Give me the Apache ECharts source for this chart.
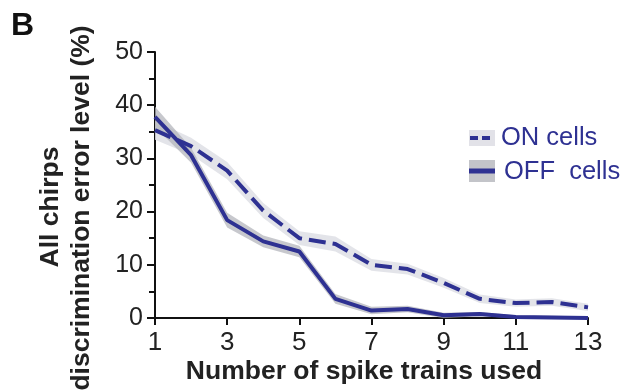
<!DOCTYPE html>
<html>
<head>
<meta charset="utf-8">
<script src="https://cdn.jsdelivr.net/npm/echarts@6/dist/echarts.min.js"></script>
<style>
  html, body { margin: 0; padding: 0; background: #fff; }
  #chart { width: 625px; height: 391px; }
</style>
</head>
<body>
<div id="chart"></div>
<script>
// Number of spike trains used
const trains = ['1','2','3','4','5','6','7','8','9','10','11','12','13'];
// Mean discrimination error (%) and SEM
const onMean  = [35.3, 32.3, 27.7, 20.2, 15.0, 13.9, 10.0, 9.2, 6.6, 3.6, 2.8, 3.0, 2.0];
const onSem   = [1.8, 1.6, 1.6, 1.4, 1.3, 1.4, 1.1, 1.0, 0.9, 0.8, 0.7, 0.7, 0.7];
const offMean = [37.8, 30.6, 18.4, 14.4, 12.5, 3.6, 1.4, 1.7, 0.5, 0.75, 0.2, 0.1, 0.0];
const offSem  = [1.9, 1.4, 1.4, 1.1, 1.1, 0.9, 0.7, 0.6, 0.5, 0.4, 0.3, 0.3, 0.3];

const BLUE = '#2e3192';
const FONT = 'Liberation Sans, Arial, sans-serif';

const lower = (m, s) => m.map((v, i) => Math.max(0, v - s[i]));
const spread = (m, s) => m.map((v, i) => (v + s[i]) - Math.max(0, v - s[i]));

// SEM band: invisible lower bound stacked with a filled spread
function band(name, mean, sem, color) {
  return [
    { name: name + '-lo', type: 'line', stack: name, data: lower(mean, sem),
      symbol: 'none', silent: true, lineStyle: { width: 0 }, z: 1 },
    { name: name + '-band', type: 'line', stack: name, data: spread(mean, sem),
      symbol: 'none', silent: true, lineStyle: { width: 0 },
      areaStyle: { color: color, opacity: 1 }, z: 1 }
  ];
}

const chart = echarts.init(document.getElementById('chart'));
chart.setOption({
  animation: false,
  grid: { left: 155, top: 52, right: 37, bottom: 73 },
  xAxis: {
    type: 'category', data: trains, boundaryGap: false,
    axisLine: { lineStyle: { color: '#111', width: 2 } },
    axisTick: { interval: 1, length: 7, lineStyle: { color: '#111', width: 2 } },
    axisLabel: { interval: 1, fontSize: 26, color: '#222', fontFamily: FONT, margin: 12 }
  },
  yAxis: {
    type: 'value', min: 0, max: 50, interval: 10,
    splitLine: { show: false },
    axisLine: { show: true, lineStyle: { color: '#111', width: 2 } },
    axisTick: { show: true, length: 8, lineStyle: { color: '#111', width: 2 } },
    minorTick: { show: true, splitNumber: 2, length: 6, lineStyle: { color: '#111', width: 2 } },
    axisLabel: { fontSize: 25, color: '#222', fontFamily: FONT, margin: 12 }
  },
  series: [
    ...band('on', onMean, onSem, 'rgba(222,223,229,0.85)'),
    ...band('off', offMean, offSem, 'rgba(180,181,188,0.75)'),
    { name: 'ON cells', type: 'line', data: onMean, symbol: 'none', z: 3,
      lineStyle: { color: BLUE, width: 4, type: [17, 7] } },
    { name: 'OFF cells', type: 'line', data: offMean, symbol: 'none', z: 3,
      lineStyle: { color: BLUE, width: 4 } }
  ],
  graphic: [
    { type: 'text', left: 11, top: 10,
      style: { text: 'B', font: 'bold 32px ' + FONT, fill: '#111' } },
    { type: 'text', x: 51, y: 207, rotation: Math.PI / 2,
      style: { text: 'All chirps', font: 'bold 26.5px ' + FONT, fill: '#222',
               textAlign: 'center', textVerticalAlign: 'middle' } },
    { type: 'text', x: 82, y: 208, rotation: Math.PI / 2,
      style: { text: 'discrimination error level (%)', font: 'bold 26.5px ' + FONT, fill: '#222',
               textAlign: 'center', textVerticalAlign: 'middle' } },
    { type: 'text', x: 364, y: 372,
      style: { text: 'Number of spike trains used', font: 'bold 26.5px ' + FONT, fill: '#222',
               textAlign: 'center', textVerticalAlign: 'middle' } },
    // legend
    { type: 'rect', shape: { x: 469, y: 130, width: 26, height: 16 },
      style: { fill: '#e2e2e8' } },
    { type: 'line', shape: { x1: 470, y1: 138, x2: 494, y2: 138 },
      style: { stroke: BLUE, lineWidth: 4, lineDash: [8, 4] } },
    { type: 'text', x: 501, y: 138,
      style: { text: 'ON cells', font: '25.5px ' + FONT, fill: BLUE, textVerticalAlign: 'middle' } },
    { type: 'rect', shape: { x: 469, y: 160, width: 26, height: 22 },
      style: { fill: '#c3c4c9' } },
    { type: 'line', shape: { x1: 469, y1: 171, x2: 495, y2: 171 },
      style: { stroke: BLUE, lineWidth: 5 } },
    { type: 'text', x: 504, y: 172,
      style: { text: 'OFF  cells', font: '25.5px ' + FONT, fill: BLUE, textVerticalAlign: 'middle' } }
  ]
});
</script>
</body>
</html>
